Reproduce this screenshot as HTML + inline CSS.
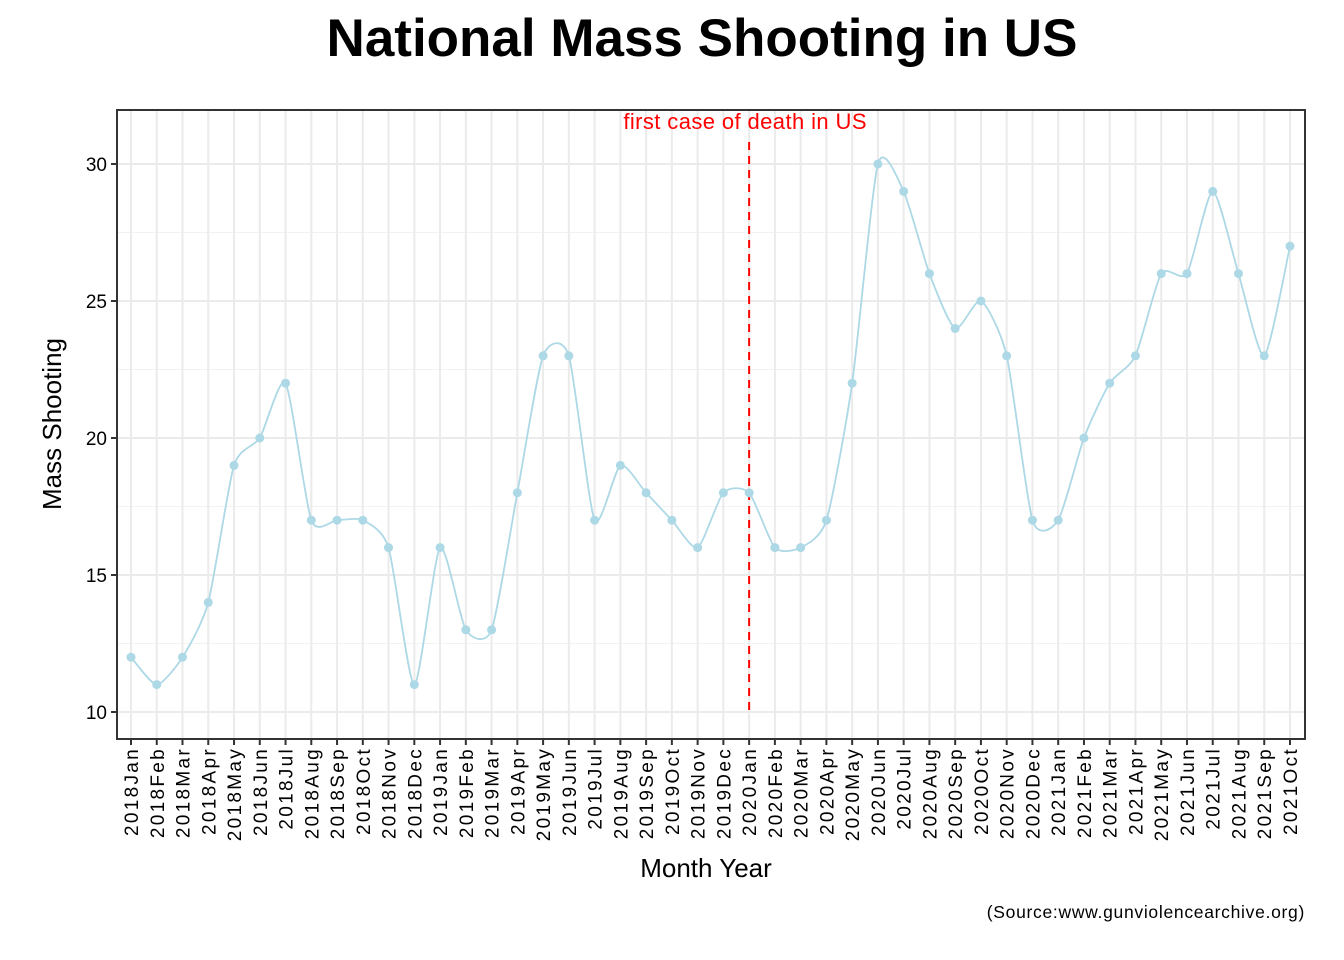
<!DOCTYPE html>
<html><head><meta charset="utf-8"><style>
body{margin:0;background:#fff;}
svg{display:block;font-family:"Liberation Sans",Arial,sans-serif;}
</style></head><body>
<svg id="chart" width="1344" height="960"></svg>
<script>
const months = ["Jan","Feb","Mar","Apr","May","Jun","Jul","Aug","Sep","Oct","Nov","Dec"];
const categories = [];
for (let y = 2018; y <= 2021; y++) for (let m = 0; m < 12; m++) { if (y === 2021 && m > 9) break; categories.push(y + months[m]); }
const values = [12,11,12,14,19,20,22,17,17,17,16,11,
                16,13,13,18,23,23,17,19,18,17,16,18,
                18,16,16,17,22,30,29,26,24,25,23,17,
                17,20,22,23,26,26,29,26,23,27];
const yTicks = [10,15,20,25,30];
const markerCategory = "2020Jan";
const markerLabel = "first case of death in US";

const NS = "http://www.w3.org/2000/svg";
const svg = document.getElementById("chart");
function el(tag, attrs, parent) { const e = document.createElementNS(NS, tag); for (const k in attrs) e.setAttribute(k, attrs[k]); (parent || svg).appendChild(e); return e; }

const P = {l:117, r:1305, t:110, b:739};
const yMin = 9.015, yMax = 31.97;
const yS = v => P.b - (v - yMin) / (yMax - yMin) * (P.b - P.t);
const x0 = 131, x1 = 1290;
const xS = i => x0 + i * (x1 - x0) / (categories.length - 1);

let g;
for (let v = 12.5; v < yMax; v += 5) { g = el("line",{x1:P.l,x2:P.r,y1:yS(v),y2:yS(v),stroke:"#f2f2f2","stroke-width":1});
  }
yTicks.forEach(v => { g = el("line",{x1:P.l,x2:P.r,y1:yS(v),y2:yS(v),stroke:"#ebebeb","stroke-width":2});
  });
categories.forEach((c,i) => { g = el("line",{x1:xS(i),x2:xS(i),y1:P.t,y2:P.b,stroke:"#ebebeb","stroke-width":2});
  });

const mi = categories.indexOf(markerCategory);
g = el("line",{x1:xS(mi),x2:xS(mi),y1:yS(30.8),y2:yS(10),stroke:"#ff0000","stroke-width":2,"stroke-dasharray":"8,6"});
 
g = el("text",{x:xS(mi)-4,y:129,"text-anchor":"middle","font-size":22,fill:"#ff0000","letter-spacing":0.4}); g.textContent = markerLabel;
 

const pts = values.map((v,i)=>[xS(i), yS(v)]);
let d = "M" + pts[0][0] + "," + pts[0][1];
for (let i = 0; i < pts.length - 1; i++) {
  const p0 = pts[Math.max(i-1,0)], p1 = pts[i], p2 = pts[i+1], p3 = pts[Math.min(i+2,pts.length-1)];
  const c1 = [p1[0] + (p2[0]-p0[0])/9, p1[1] + (p2[1]-p0[1])/9];
  const c2 = [p2[0] - (p3[0]-p1[0])/9, p2[1] - (p3[1]-p1[1])/9];
  d += " C" + c1 + " " + c2 + " " + p2;
}
g = el("path",{d:d,fill:"none",stroke:"#add8e6","stroke-width":1.8});
 
pts.forEach((p,i) => { g = el("circle",{cx:p[0],cy:p[1],r:4.5,fill:"#add8e6"});
  });

g = el("rect",{x:P.l,y:P.t,width:P.r-P.l,height:P.b-P.t,fill:"none",stroke:"#333","stroke-width":2});
 

yTicks.forEach(v => {
  g = el("line",{x1:P.l-6,x2:P.l,y1:yS(v),y2:yS(v),stroke:"#333","stroke-width":2});
   
  g = el("text",{x:P.l-10,y:yS(v)+7,"text-anchor":"end","font-size":19,fill:"#000"}); g.textContent = v;
   
});
categories.forEach((c,i) => {
  g = el("line",{x1:xS(i),x2:xS(i),y1:P.b,y2:P.b+6,stroke:"#333","stroke-width":2});
   
  g = el("text",{x:0,y:0,"text-anchor":"end","font-size":19,fill:"#000","letter-spacing":2.3,transform:"translate("+(xS(i)+7)+","+(P.b+8)+") rotate(-90)"}); g.textContent = c;
   
});

g = el("text",{x:702,y:56,"text-anchor":"middle","font-size":53,"font-weight":"bold",fill:"#000"}); g.textContent = "National Mass Shooting in US";
 
g = el("text",{x:0,y:0,"text-anchor":"middle","font-size":26,fill:"#000",transform:"translate(61,424) rotate(-90)"}); g.textContent = "Mass Shooting";
 
g = el("text",{x:706,y:877,"text-anchor":"middle","font-size":26,fill:"#000"}); g.textContent = "Month Year";
 
g = el("text",{x:1305,y:918,"text-anchor":"end","font-size":17.5,fill:"#000","letter-spacing":0.7}); g.textContent = "(Source:www.gunviolencearchive.org)";
 
</script>
</body></html>
